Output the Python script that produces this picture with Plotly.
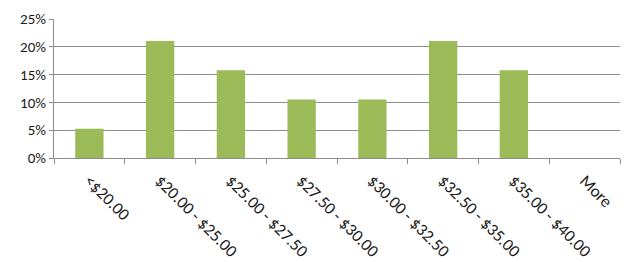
import plotly.graph_objects as go

categories = ["<$20.00", "$20.00 - $25.00", "$25.00 - $27.50", "$27.50 - $30.00",
              "$30.00 - $32.50", "$32.50 - $35.00", "$35.00 - $40.00", "More"]
values = [1/19, 4/19, 3/19, 2/19, 2/19, 4/19, 3/19, 0]
y_ticks = [0, 0.05, 0.10, 0.15, 0.20, 0.25]
y_tick_labels = ["0%", "5%", "10%", "15%", "20%", "25%"]

fig = go.Figure(go.Bar(x=categories, y=values, marker=dict(color="#9BBB59", line=dict(width=0))))

fig.update_layout(
    width=640, height=262,
    margin=dict(l=54, r=20, t=19, b=104),
    paper_bgcolor="white", plot_bgcolor="white",
    bargap=0.6,
    showlegend=False,
    font=dict(family="Carlito, Liberation Sans, sans-serif", size=13, color="#1a1a1a"),
)
fig.update_xaxes(
    type="category", tickangle=45, automargin=False, ticklabelstandoff=5,
    showline=True, linecolor="#8c8c8c", linewidth=1,
    ticks="outside", ticklen=5, tickcolor="#8c8c8c", tickson="boundaries",
    showgrid=False, tickfont=dict(size=17),
)
fig.update_yaxes(
    range=[0, 0.25], tickvals=y_ticks, ticktext=y_tick_labels, automargin=False,
    showline=True, linecolor="#8c8c8c", linewidth=1,
    ticks="outside", ticklen=4, tickcolor="#8c8c8c",
    showgrid=True, gridcolor="#8c8c8c", gridwidth=1,
    zeroline=False, tickfont=dict(size=15),
)

fig.write_html("out.html")
